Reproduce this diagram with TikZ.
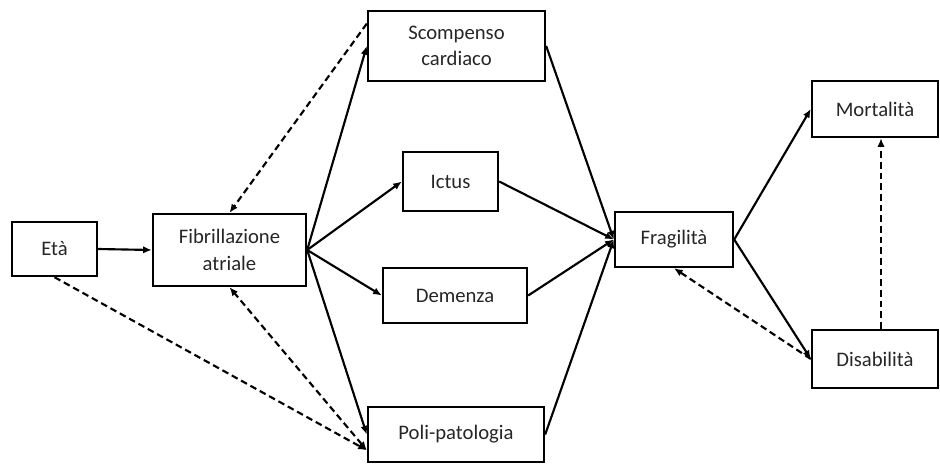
\documentclass[tikz,border=0pt]{standalone}
\usepackage{fontspec}
\setmainfont{Carlito}
\usetikzlibrary{arrows.meta}

\begin{document}
\begin{tikzpicture}[x=0.75pt,y=-0.75pt,>={Latex[length=6.5pt,width=5.5pt]},
		box/.style={draw,line width=1.8pt,align=center,inner sep=0pt,text=black!85,font=\fontsize{15.5}{20}\selectfont},
		link/.style={line width=1.6pt,->},
		back/.style={link,dash pattern=on 5pt off 3pt}]
		\useasboundingbox (0,0) rectangle (940,464);
		\node[box,minimum width=63.75pt,minimum height=40.5pt] (eta) at (54.5,249) {Età};
		\node[box,minimum width=114.75pt,minimum height=54pt] (fib) at (229.5,250) {Fibrillazione\\atriale};
		\node[box,minimum width=132.75pt,minimum height=52.5pt] (scomp) at (456.5,46) {Scompenso\\cardiaco};
		\node[box,minimum width=71.25pt,minimum height=44.25pt] (ictus) at (450.5,181.5) {Ictus};
		\node[box,minimum width=108pt,minimum height=41.25pt] (dem) at (455,295.5) {Demenza};
		\node[box,minimum width=132pt,minimum height=41.25pt] (poli) at (456,434.5) {Poli-patologia};
		\node[box,minimum width=88.5pt,minimum height=41.25pt] (frag) at (674,239.5) {Fragilità};
		\node[box,minimum width=94.5pt,minimum height=42pt] (mort) at (875,109) {Mortalità};
		\node[box,minimum width=94.5pt,minimum height=43.5pt] (dis) at (875,359) {Disabilità};
		\draw[link] (eta.east) -- (fib.west);
		\draw[link] (fib.east) -- (scomp.west);
		\draw[link] (fib.east) -- (ictus.west);
		\draw[link] (fib.east) -- (dem.west);
		\draw[link] (fib.east) -- (poli.west);
		\draw[back] (scomp.166) -- (fib.north);
		\draw[back] (eta.south) -- (poli.190);
		\draw[back,<->] (poli.190) -- (fib.south);
		\draw[link] (scomp.east) -- (frag.west);
		\draw[link] (ictus.east) -- (frag.west);
		\draw[link] (dem.east) -- (frag.west);
		\draw[link] (poli.east) -- (frag.west);
		\draw[link] (frag.east) -- (mort.west);
		\draw[link] (frag.east) -- (dis.west);
		\draw[back] (dis.west) -- (frag.south);
		\draw[back] ([xshift=4.5pt]dis.north) -- ([xshift=4.5pt]mort.south);
	\end{tikzpicture}
\end{document}
